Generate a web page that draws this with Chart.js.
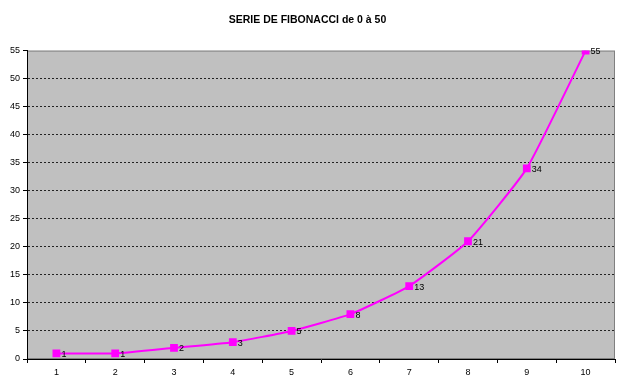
<!DOCTYPE html>
<html>
<head>
<meta charset="utf-8">
<script src="https://cdn.jsdelivr.net/npm/chart.js@4"></script>
<style>
  html, body { margin: 0; padding: 0; background: #fff; }
  #wrap { width: 625px; height: 389px; }
</style>
</head>
<body>
<div id="wrap"><canvas id="fiboChart"></canvas></div>
<script>
// Données du graphique
const categories = ['1', '2', '3', '4', '5', '6', '7', '8', '9', '10'];
const fiboValues = [1, 1, 2, 3, 5, 8, 13, 21, 34, 55];
const yTicks = [0, 5, 10, 15, 20, 25, 30, 35, 40, 45, 50, 55];

const police = "'Liberation Sans', Arial, sans-serif";

// Fond gris de la zone de tracé + bordure grise
const fondZone = {
  id: 'fondZone',
  beforeDraw(chart) {
    const { ctx, chartArea: a } = chart;
    ctx.save();
    ctx.fillStyle = '#c0c0c0';
    ctx.fillRect(a.left, a.top, a.right - a.left, a.bottom - a.top);
    ctx.strokeStyle = '#808080';
    ctx.lineWidth = 1;
    ctx.strokeRect(a.left + 0.5, a.top + 0.5, a.right - a.left - 1, a.bottom - a.top - 1);
    ctx.restore();
  }
};

// Étiquettes de valeurs à droite des points
const etiquettes = {
  id: 'etiquettes',
  afterDatasetsDraw(chart) {
    const { ctx } = chart;
    const meta = chart.getDatasetMeta(0);
    ctx.save();
    ctx.fillStyle = '#000';
    ctx.font = '9px ' + police;
    ctx.textBaseline = 'middle';
    ctx.textAlign = 'left';
    meta.data.forEach((pt, i) => {
      ctx.fillText(String(fiboValues[i]), pt.x + 5, pt.y + 1);
    });
    ctx.restore();
  }
};

new Chart(document.getElementById('fiboChart'), {
  type: 'line',
  data: {
    labels: categories,
    datasets: [{
      data: fiboValues,
      borderColor: '#ff00ff',
      backgroundColor: '#ff00ff',
      borderWidth: 2,
      tension: 0.15,
      pointStyle: 'rect',
      pointRadius: 5.5,
      pointHoverRadius: 5.5,
      pointBorderWidth: 0,
      fill: false
    }]
  },
  options: {
    responsive: true,
    maintainAspectRatio: false,
    animation: false,
    layout: { padding: { left: 0, right: 10, top: 0, bottom: 0 } },
    plugins: {
      legend: { display: false },
      tooltip: { enabled: false },
      title: {
        display: true,
        text: 'SERIE DE FIBONACCI de 0 à 50',
        color: '#000',
        font: { family: police, size: 10.5, weight: 'bold', lineHeight: 1.2 },
        padding: { top: 14, bottom: 24 }
      }
    },
    scales: {
      x: {
        offset: true,
        grid: {
          offset: true,
          drawOnChartArea: false,
          drawTicks: true,
          tickLength: 4,
          tickColor: '#000'
        },
        border: { display: true, color: '#000', width: 1 },
        ticks: {
          color: '#000',
          font: { family: police, size: 9 },
          padding: 4,
          maxRotation: 0
        },
        afterFit(scale) { scale.height = 30; }
      },
      y: {
        min: 0,
        max: 55,
        afterBuildTicks(scale) { scale.ticks = yTicks.map(v => ({ value: v })); },
        grid: {
          color: ctx => (ctx.tick && (ctx.tick.value === 0 || ctx.tick.value === 55)) ? 'rgba(0,0,0,0)' : '#222',
          tickColor: '#000',
          tickLength: 4,
          lineWidth: 1
        },
        border: { display: true, color: '#000', width: 1, dash: [2, 2] },
        ticks: {
          color: '#000',
          font: { family: police, size: 9 },
          padding: 3
        },
        afterFit(scale) { scale.width = 27; }
      }
    }
  },
  plugins: [fondZone, etiquettes]
});
</script>
</body>
</html>
